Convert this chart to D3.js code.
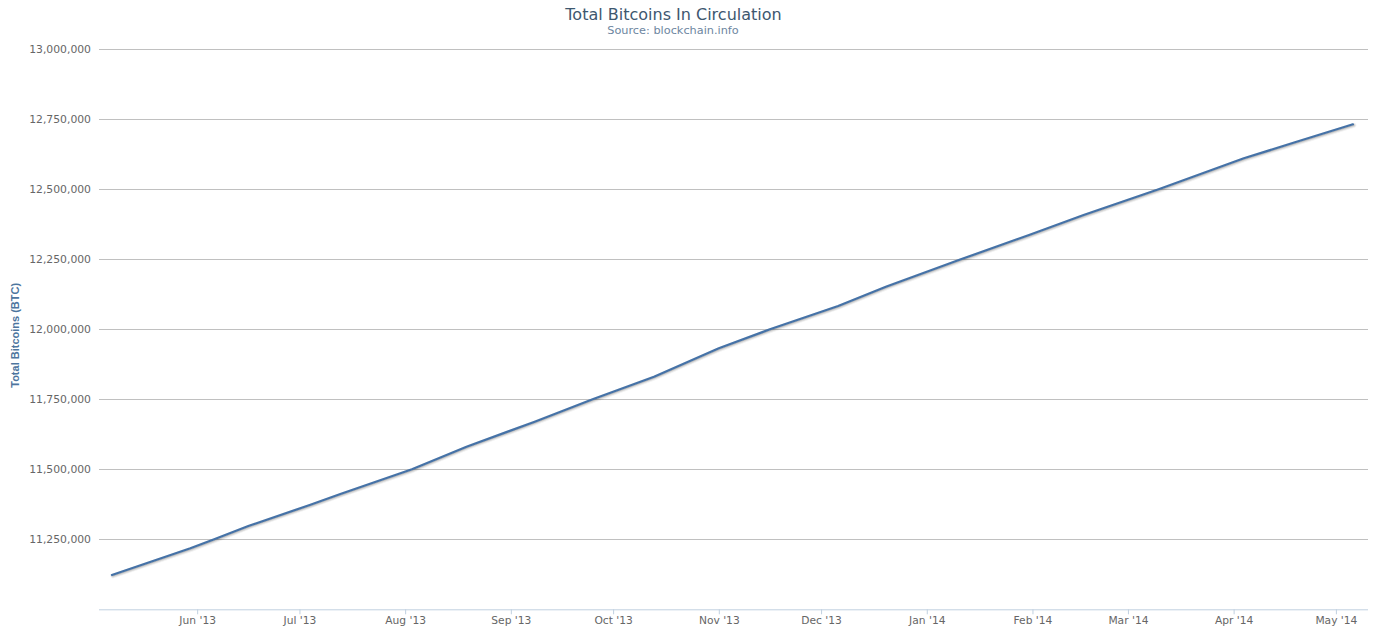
<!DOCTYPE html>
<html>
<head>
<meta charset="utf-8">
<script src="https://cdn.jsdelivr.net/npm/d3@7"></script>
<style>
  html, body { margin: 0; padding: 0; background: #fff; }
  svg { display: block; }
</style>
</head>
<body>
<div id="chart"></div>
<script>
// ---- Data ----
const dates = ["2013-05-07","2013-05-30","2013-06-06","2013-06-16","2013-07-04","2013-07-13",
  "2013-08-03","2013-08-19","2013-09-08","2013-09-25","2013-10-13","2013-11-01",
  "2013-11-16","2013-12-06","2013-12-20","2014-01-11","2014-01-31","2014-02-16",
  "2014-03-10","2014-04-04","2014-04-19","2014-05-06"];
const totalBTC = [11122500,11217900,11250000,11297500,11372500,11411800,
  11500000,11580700,11670000,11750000,11830700,11932100,
  12000000,12083200,12152100,12250000,12336800,12408200,
  12500000,12610700,12667900,12732100];
const yTicks = [11250000,11500000,11750000,12000000,12250000,12500000,12750000,13000000];
const xTicks = ["2013-06-01","2013-07-01","2013-08-01","2013-09-01","2013-10-01","2013-11-01",
  "2013-12-01","2014-01-01","2014-02-01","2014-03-01","2014-04-01","2014-05-01"];
const yDomain = [11000000, 13000000];
const xDomain = ["2013-05-03T05:00:00Z", "2014-05-10T10:00:00Z"];
const title = "Total Bitcoins In Circulation";
const subtitle = "Source: blockchain.info";
const yTitle = "Total Bitcoins (BTC)";

// ---- Layout ----
const W = 1379, H = 637;
const plot = { left: 99, right: 1368, top: 49.3, bottom: 609.3 };
const parse = d3.utcParse("%Y-%m-%d");

const svg = d3.select("#chart").append("svg").attr("width", W).attr("height", H)
  .style("font-family", "'DejaVu Sans',Verdana,sans-serif");

const x = d3.scaleUtc().domain(xDomain.map(d => new Date(d))).range([plot.left, plot.right]);
const y = d3.scaleLinear().domain(yDomain).range([plot.bottom, plot.top]);

const data = dates.map((d, i) => ({ date: parse(d), value: totalBTC[i] }));

// grid lines
const grid = svg.append("g").attr("transform", `translate(${plot.left},0)`)
  .call(d3.axisLeft(y).tickValues(yTicks).tickSize(-(plot.right - plot.left)).tickFormat(""));
grid.select(".domain").remove();
grid.selectAll("line").attr("stroke", "#C0C0C0").attr("stroke-width", 1).attr("shape-rendering", "crispEdges");

// y labels
const yAx = svg.append("g").attr("transform", `translate(${plot.left},0)`)
  .call(d3.axisLeft(y).tickValues(yTicks).tickSize(0).tickPadding(8).tickFormat(d3.format(",")));
yAx.select(".domain").remove();
yAx.selectAll("text").attr("fill", "#666").style("font-size", "10.8px")
  .style("font-family", "'DejaVu Sans',Verdana,sans-serif");

// x axis
const xAx = svg.append("g").attr("transform", `translate(0,${plot.bottom})`)
  .call(d3.axisBottom(x).tickValues(xTicks.map(parse)).tickSize(5).tickPadding(2)
    .tickFormat(d3.utcFormat("%b '%y")));
xAx.select(".domain").attr("stroke", "#C0D0E0").attr("d", `M${plot.left},0.5H${plot.right}`);
xAx.selectAll(".tick line").attr("stroke", "#C0D0E0");
xAx.selectAll("text").attr("fill", "#666").style("font-size", "10.7px")
  .style("font-family", "'DejaVu Sans',Verdana,sans-serif");

// line with soft shadow
const line = d3.line().x(d => x(d.date)).y(d => y(d.value));
[[5, 0.05], [3, 0.1], [1, 0.15]].forEach(([w, o]) => {
  svg.append("path").datum(data).attr("d", line).attr("fill", "none")
    .attr("stroke", "#000").attr("stroke-opacity", o).attr("stroke-width", w)
    .attr("stroke-linejoin", "round").attr("stroke-linecap", "round")
    .attr("transform", "translate(1,1)");
});
svg.append("path").datum(data).attr("d", line).attr("fill", "none")
  .attr("stroke", "#4572A7").attr("stroke-width", 2.2)
  .attr("stroke-linejoin", "round").attr("stroke-linecap", "round");

// titles
svg.append("text").attr("x", 673.5).attr("y", 19.5).attr("text-anchor", "middle")
  .attr("fill", "#3E576F").style("font-size", "16px").text(title);
svg.append("text").attr("x", 673).attr("y", 34).attr("text-anchor", "middle")
  .attr("fill", "#6D869F").style("font-size", "11.3px").text(subtitle);
svg.append("text")
  .attr("transform", `translate(19,${(plot.top + plot.bottom) / 2 + 6}) rotate(-90)`)
  .attr("text-anchor", "middle").attr("fill", "#4d759e")
  .style("font-size", "11px").style("font-weight", "bold")
  .style("font-family", "'Liberation Sans',Arial,sans-serif").text(yTitle);
</script>
</body>
</html>
